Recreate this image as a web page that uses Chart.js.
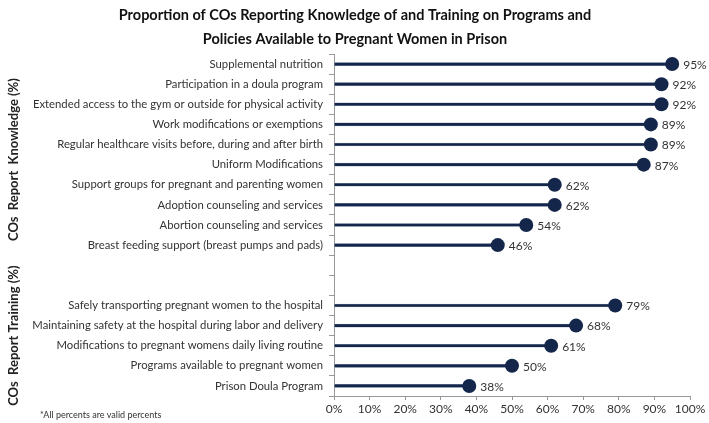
<!DOCTYPE html>
<html>
<head>
<meta charset="utf-8">
<script src="https://cdn.jsdelivr.net/npm/chart.js@4"></script>
<style>
  body { margin: 0; background: #fff; }
  #wrap { width: 709px; height: 423px; position: relative; }
</style>
</head>
<body>
<div id="wrap"><canvas id="myChart"></canvas></div>
<script>
// rows top to bottom, two blank rows split the knowledge and training groups
const programs = [
  'Supplemental nutrition',
  'Participation in a doula program',
  'Extended access to the gym or outside for physical activity',
  'Work modifications or exemptions',
  'Regular healthcare visits before, during and after birth',
  'Uniform Modifications',
  'Support groups for pregnant and parenting women',
  'Adoption counseling and services',
  'Abortion counseling and services',
  'Breast feeding support (breast pumps and pads)',
  '', '',
  'Safely transporting pregnant women to the hospital',
  'Maintaining safety at the hospital during labor and delivery',
  'Modifications to pregnant womens daily living routine',
  'Programs available to pregnant women',
  'Prison Doula Program'
];
const percents = [95, 92, 92, 89, 89, 87, 62, 62, 54, 46, null, null, 79, 68, 61, 50, 38];
const xTicks = [0, 10, 20, 30, 40, 50, 60, 70, 80, 90, 100];
const titleLines = [
  'Proportion of COs Reporting Knowledge of and Training on Programs and',
  'Policies Available to Pregnant Women in Prison'
];
const groupTitles = ['COs  Report  Knowledge (%)', 'COs  Report Training (%)'];
const footnote = '*All percents are valid percents';

const navy = '#14274a';
const font = 'Lato, "Open Sans", sans-serif';

const extras = {
  id: 'extras',
  afterDatasetsDraw(chart) {
    const ctx = chart.ctx;
    const meta = chart.getDatasetMeta(1);
    ctx.save();
    ctx.fillStyle = '#333';
    ctx.font = '12px ' + font;
    ctx.textAlign = 'left';
    ctx.textBaseline = 'middle';
    meta.data.forEach((pt, i) => {
      if (percents[i] == null) return;
      ctx.fillText(percents[i] + '%', pt.x + 11, pt.y + 1);
    });
    ctx.restore();
  },
  afterDraw(chart) {
    const ctx = chart.ctx;
    const y = chart.scales.y;
    ctx.save();
    ctx.fillStyle = '#111';
    ctx.textAlign = 'center';
    ctx.textBaseline = 'middle';
    ctx.font = 'bold 14.5px ' + font;
    ctx.fillText(titleLines[0], 355, 15);
    ctx.fillText(titleLines[1], 355, 39);

    ctx.font = 'bold 13px ' + font;
    ctx.fillStyle = '#222';
    const mid1 = (y.getPixelForValue(0) + y.getPixelForValue(9)) / 2 + 5;
    const mid2 = (y.getPixelForValue(11) + y.getPixelForValue(16)) / 2;
    [[groupTitles[0], mid1], [groupTitles[1], mid2]].forEach(([t, cy]) => {
      ctx.save();
      ctx.translate(14, cy);
      ctx.rotate(-Math.PI / 2);
      ctx.fillText(t, 0, 0);
      ctx.restore();
    });

    ctx.font = '9px ' + font;
    ctx.fillStyle = '#333';
    ctx.textAlign = 'left';
    ctx.fillText(footnote, 40, 415);
    ctx.restore();
  }
};

new Chart(document.getElementById('myChart').getContext('2d'), {
  type: 'bar',
  data: {
    labels: programs,
    datasets: [{
      data: percents,
      backgroundColor: navy,
      borderColor: '#7d8ca6',
      borderWidth: 0.5,
      barThickness: 3,
      indexAxis: 'y',
      order: 2
    }, {
      type: 'line',
      data: percents,
      showLine: false,
      indexAxis: 'y',
      order: 1,
      pointRadius: 7,
      pointBackgroundColor: navy,
      pointBorderColor: navy,
      pointBorderWidth: 0
    }]
  },
  options: {
    indexAxis: 'y',
    responsive: true,
    maintainAspectRatio: false,
    animation: false,
    layout: { padding: { top: 54, right: 19, left: 0, bottom: 0 } },
    plugins: { legend: { display: false }, tooltip: { enabled: false } },
    scales: {
      x: {
        min: 0, max: 100,
        afterFit: s => { s.height = 27; },
        afterBuildTicks: s => { s.ticks = xTicks.map(v => ({ value: v })); },
        ticks: { callback: v => v + '%', color: '#333', font: { size: 12, family: font }, padding: 2, maxRotation: 0, minRotation: 0, autoSkip: false },
        grid: { drawOnChartArea: false, drawTicks: true, tickLength: 4, color: '#999' },
        border: { color: '#999' }
      },
      y: {
        offset: true,
        afterFit: s => { s.width = 334; },
        ticks: { color: '#333', font: { size: 11.3, family: font }, padding: 6, autoSkip: false },
        grid: { offset: true, drawOnChartArea: false, drawTicks: true, tickLength: 5, color: '#999' },
        border: { color: '#999' }
      }
    }
  },
  plugins: [extras]
});
</script>
</body>
</html>
